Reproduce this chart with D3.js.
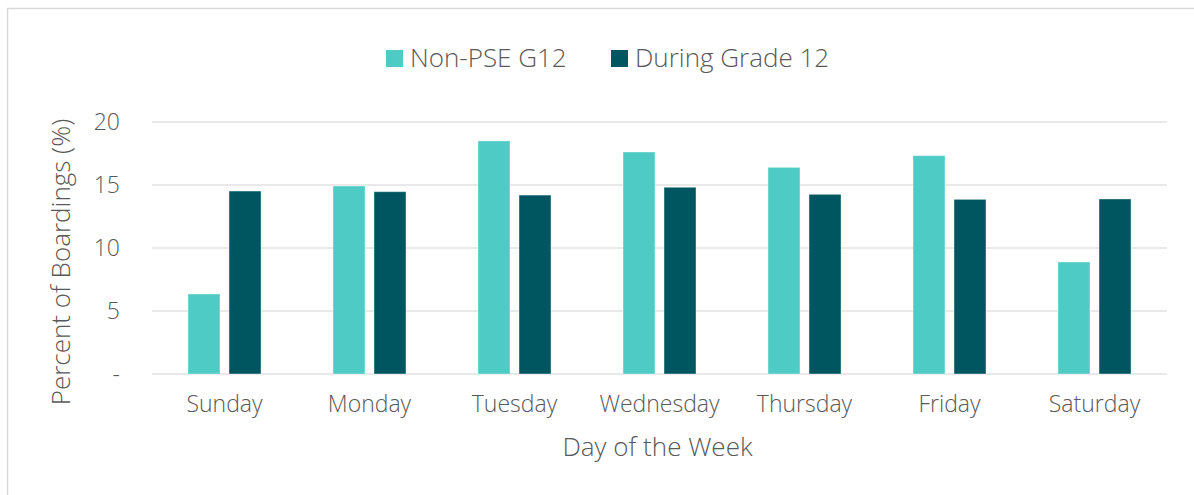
<!DOCTYPE html>
<html>
<head>
<meta charset="utf-8">
<script src="https://cdn.jsdelivr.net/npm/d3@7"></script>
<style>
  body { margin: 0; background: #fff; }
  text { font-family: "Open Sans", sans-serif; font-weight: 300; fill: #595959; }
</style>
</head>
<body>
<div id="chart"></div>
<script>
// Chart data
var days = ["Sunday", "Monday", "Tuesday", "Wednesday", "Thursday", "Friday", "Saturday"];
var seriesNames = ["Non-PSE G12", "During Grade 12"];
var nonPse = [6.35, 14.92, 18.5, 17.62, 16.4, 17.33, 8.89];
var duringG12 = [14.52, 14.47, 14.2, 14.82, 14.26, 13.86, 13.89];
var yTicks = [0, 5, 10, 15, 20];

var colors = ["#4ECBC4", "#005660"];
var fontFam = "'Open Sans', sans-serif";

var svgWidth = 1194;
var svgHeight = 495;

var chartMargin = { top: 122, right: 27, bottom: 121, left: 152 };
var chartWidth = svgWidth - chartMargin.left - chartMargin.right;
var chartHeight = svgHeight - chartMargin.top - chartMargin.bottom;

var svg = d3.select("#chart")
    .append("svg")
    .attr("width", svgWidth)
    .attr("height", svgHeight);

// outer frame
svg.append("rect")
    .attr("x", 7.5)
    .attr("y", 8.5)
    .attr("width", 1200)
    .attr("height", 500)
    .attr("fill", "none")
    .attr("stroke", "#d9d9d9")
    .attr("stroke-width", 1.5);

var chartGroup = svg.append("g")
    .attr("transform", `translate(${chartMargin.left}, ${chartMargin.top})`);

// scales
var x0 = d3.scaleBand()
    .domain(days)
    .range([0, chartWidth]);

var x1 = d3.scaleBand()
    .domain(seriesNames)
    .range([x0.bandwidth() / 2 - 36.5, x0.bandwidth() / 2 + 36.5])
    .paddingInner(0.22);

var yScale = d3.scaleLinear()
    .domain([0, 20])
    .range([chartHeight, 0]);

// gridlines
chartGroup.append("g")
    .selectAll("line")
    .data(yTicks)
    .enter()
    .append("line")
    .attr("x1", 0)
    .attr("x2", chartWidth)
    .attr("y1", d => yScale(d))
    .attr("y2", d => yScale(d))
    .attr("stroke", "#e2e2e2")
    .attr("stroke-width", 1.5);

// y axis labels
var leftAxis = d3.axisLeft(yScale)
    .tickValues(yTicks)
    .tickSize(0)
    .tickPadding(32)
    .tickFormat(d => d === 0 ? "-" : d);

var yAxisG = chartGroup.append("g").call(leftAxis);
yAxisG.select(".domain").remove();
yAxisG.selectAll("text")
    .attr("font-size", 23)
    .attr("font-family", fontFam)
    .attr("fill", "#595959");

// x axis labels
var bottomAxis = d3.axisBottom(x0).tickSize(0).tickPadding(22);
var xAxisG = chartGroup.append("g")
    .attr("transform", `translate(0, ${chartHeight})`)
    .call(bottomAxis);
xAxisG.select(".domain").remove();
xAxisG.selectAll("text")
    .attr("font-size", 23)
    .attr("font-family", fontFam)
    .attr("fill", "#595959");

// bars
var rows = days.map((d, i) => ({ day: d, values: [nonPse[i], duringG12[i]] }));

var groups = chartGroup.selectAll(".day")
    .data(rows)
    .enter()
    .append("g")
    .attr("class", "day")
    .attr("transform", d => `translate(${x0(d.day)}, 0)`);

groups.selectAll("rect")
    .data(d => d.values.map((v, j) => ({ name: seriesNames[j], value: v, j: j })))
    .enter()
    .append("rect")
    .attr("x", d => x1(d.name))
    .attr("y", d => yScale(d.value))
    .attr("width", x1.bandwidth())
    .attr("height", d => chartHeight - yScale(d.value))
    .attr("fill", d => colors[d.j])
    .attr("stroke", "#ffffff")
    .attr("stroke-opacity", 0.4)
    .attr("stroke-width", 1);

// axis titles
chartGroup.append("text")
    .attr("transform", "rotate(-90)")
    .attr("x", -chartHeight / 2 - 14)
    .attr("y", -82)
    .attr("text-anchor", "middle")
    .attr("font-size", 26)
    .text("Percent of Boardings (%)");

chartGroup.append("text")
    .attr("x", chartWidth / 2 - 2)
    .attr("y", chartHeight + 82)
    .attr("text-anchor", "middle")
    .attr("font-size", 26)
    .text("Day of the Week");

// legend
var legendItems = [
    { name: seriesNames[0], x: 386, color: colors[0] },
    { name: seriesNames[1], x: 611, color: colors[1] }
];

var legend = svg.append("g");
var li = legend.selectAll("g")
    .data(legendItems)
    .enter()
    .append("g")
    .attr("transform", d => `translate(${d.x}, 50)`);

li.append("rect")
    .attr("width", 17)
    .attr("height", 17)
    .attr("fill", d => d.color);

li.append("text")
    .attr("x", 24)
    .attr("y", 17)
    .attr("font-size", 26)
    .text(d => d.name);
</script>
</body>
</html>
